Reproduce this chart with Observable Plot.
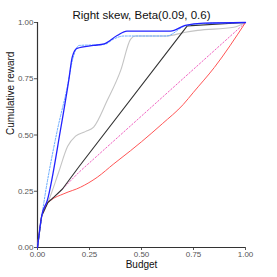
<!DOCTYPE html>
<html><head><meta charset="utf-8">
<script src="https://cdn.jsdelivr.net/npm/d3@7"></script>
<script src="https://cdn.jsdelivr.net/npm/@observablehq/plot@0.6"></script>
<style>body{margin:0;background:#fff;font-family:"Liberation Sans",Arial,sans-serif}</style>
</head><body><div id="chart"></div>
<script>
const title = "Right skew, Beta(0.09, 0.6)";
const xTicks = [0, 0.25, 0.5, 0.75, 1];
const yTicks = [0, 0.25, 0.5, 0.75, 1];

const blueX = [0, 0.02, 0.047, 0.11, 0.15, 0.167, 0.19, 0.27, 0.32, 0.383, 0.43, 0.64, 0.71, 0.8, 1];
const blueY = [0, 0.14, 0.209, 0.52, 0.742, 0.846, 0.885, 0.898, 0.905, 0.942, 0.962, 0.962, 0.987, 0.997, 1];

const lightBlueX = [0, 0.0225, 0.095, 0.143, 0.17, 0.2, 0.32, 0.367, 0.415, 0.62, 0.71, 0.8, 1];
const lightBlueY = [0, 0.15, 0.52, 0.712, 0.84, 0.898, 0.902, 0.927, 0.94, 0.94, 0.985, 0.995, 1];

const grayX = [0, 0.02, 0.05, 0.1, 0.145, 0.183, 0.23, 0.27, 0.335, 0.4, 0.447, 0.47, 0.62, 0.71, 0.77, 0.944, 1];
const grayY = [0, 0.14, 0.2, 0.33, 0.45, 0.495, 0.515, 0.535, 0.653, 0.787, 0.925, 0.94, 0.94, 0.957, 0.965, 0.979, 1];

const blackX = [0, 0.02, 0.05, 0.08, 0.12, 0.2, 0.72, 1];
const blackY = [0, 0.14, 0.2, 0.225, 0.26, 0.36, 0.985, 1];

const pinkX = [0, 0.02, 0.05, 0.08, 0.12, 0.2, 1];
const pinkY = [0, 0.14, 0.2, 0.225, 0.26, 0.335, 1];

const redX = [0, 0.02, 0.038, 0.0625, 0.127, 0.207, 0.287, 0.367, 0.447, 0.5, 0.6, 0.7, 0.75, 0.85, 1];
const redY = [0, 0.135, 0.187, 0.209, 0.239, 0.268, 0.312, 0.372, 0.43, 0.47, 0.55, 0.635, 0.69, 0.8, 1];

const series = [
  {xs: grayX, ys: grayY, color: "#c4c4c4", dash: null, w: 1.1, curve: "monotone-x"},
  {xs: pinkX, ys: pinkY, color: "#f060c0", dash: "1.5,2", w: 1, curve: "linear"},
  {xs: redX, ys: redY, color: "#ff5555", dash: null, w: 1, curve: "monotone-x"},
  {xs: blackX, ys: blackY, color: "#333333", dash: null, w: 1.1, curve: "linear"},
  {xs: lightBlueX, ys: lightBlueY, color: "#66aaff", dash: "2,1.5", w: 1, curve: "monotone-x"},
  {xs: blueX, ys: blueY, color: "#2222ff", dash: null, w: 1.3, curve: "monotone-x"}
];

const marks = [];
for (const s of series) {
  const data = s.xs.map((x, i) => ({x, y: s.ys[i]}));
  marks.push(Plot.line(data, {x: "x", y: "y", stroke: s.color, strokeWidth: s.w,
    strokeDasharray: s.dash, curve: s.curve}));
}

const chart = Plot.plot({
  width: 277, height: 277,
  marginLeft: 37, marginRight: 32, marginTop: 22, marginBottom: 30,
  style: {fontFamily: "Liberation Sans, Arial, sans-serif", background: "#fff"},
  x: {domain: [0, 1]},
  y: {domain: [0, 1]},
  marks: [
    Plot.axisX({ticks: xTicks, tickFormat: d3.format(".2f"), tickSize: 3, tickPadding: 1,
      fontSize: 8, color: "#555", label: null}),
    Plot.axisY({ticks: yTicks, tickFormat: d3.format(".2f"), tickSize: 3, tickPadding: 1,
      fontSize: 8, color: "#555", label: null}),
    Plot.ruleY([0], {stroke: "#333", strokeWidth: 1.2}),
    Plot.ruleX([0], {stroke: "#333", strokeWidth: 1.2}),
    ...marks,
    Plot.text([title], {frameAnchor: "top", dy: -12, fontSize: 11.5, fill: "#111"}),
    Plot.text(["Budget"], {frameAnchor: "bottom", dy: 20, fontSize: 10, fill: "#111"}),
    Plot.text(["Cumulative reward"], {frameAnchor: "left", dx: -27, rotate: -90, fontSize: 10, fill: "#111"})
  ]
});
document.getElementById("chart").appendChild(chart);
</script></body></html>
